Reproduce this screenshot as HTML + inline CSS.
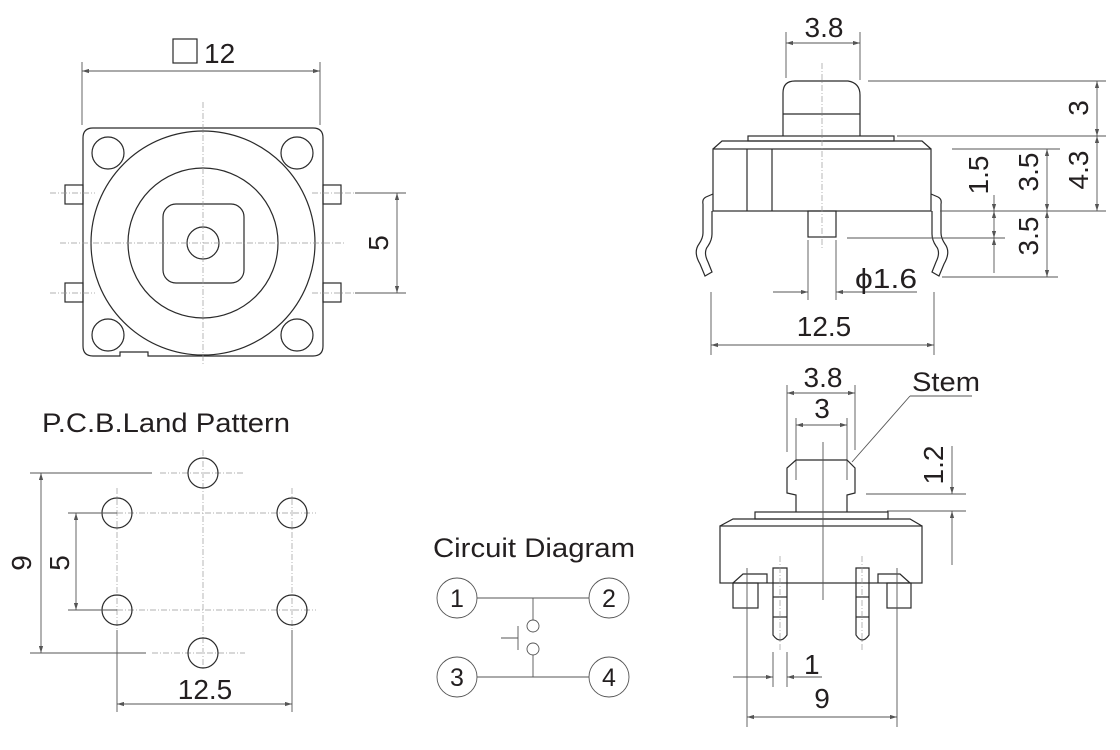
<!DOCTYPE html>
<html><head><meta charset="utf-8"><style>
html,body{margin:0;padding:0;background:#fff;}
svg{display:block;}
text{font-family:"Liberation Sans",sans-serif;fill:#231f20;}
.o{fill:none;stroke:#2a2a2a;stroke-width:1.2;}
.d{fill:none;stroke:#555;stroke-width:0.9;}
.c{fill:none;stroke:#999;stroke-width:0.7;stroke-dasharray:6 2 1 2;}
</style></head><body>
<svg width="1120" height="750" viewBox="0 0 1120 750" xmlns="http://www.w3.org/2000/svg">
<defs>
<marker id="a" viewBox="0 0 10 6" refX="10" refY="3" markerWidth="8" markerHeight="5" orient="auto-start-reverse"><path d="M0,0 L10,3 L0,6 z" fill="#555"/></marker>
</defs>

<!-- ===== Top-left view ===== -->
<rect x="173" y="39" width="24" height="24" class="o" stroke-width="0.8"/>
<text x="204" y="63" font-size="28">12</text>
<line x1="82" y1="62" x2="82" y2="125" class="d"/>
<line x1="320" y1="62" x2="320" y2="125" class="d"/>
<line x1="82" y1="71" x2="320" y2="71" class="d" marker-start="url(#a)" marker-end="url(#a)"/>
<path d="M93,128 H313 Q323,128 323,138 V346 Q323,356 313,356 H148 V352 H120 V356 H93 Q83,356 83,346 V138 Q83,128 93,128 Z" class="o"/>
<circle cx="108" cy="153" r="16" class="o"/>
<circle cx="297" cy="153" r="16" class="o"/>
<circle cx="108" cy="335" r="16" class="o"/>
<circle cx="297" cy="335" r="16" class="o"/>
<circle cx="203" cy="243" r="112" class="o"/>
<circle cx="203" cy="243" r="75" class="o"/>
<rect x="163" y="204" width="81" height="79" rx="13" class="o"/>
<circle cx="203" cy="243" r="16" class="o"/>
<rect x="65" y="185" width="18" height="19" class="o"/>
<rect x="65" y="283" width="18" height="19" class="o"/>
<rect x="323" y="185" width="18" height="19" class="o"/>
<rect x="323" y="283" width="18" height="19" class="o"/>
<line x1="50" y1="193" x2="95" y2="193" class="c"/>
<line x1="50" y1="293" x2="95" y2="293" class="c"/>
<line x1="312" y1="193" x2="355" y2="193" class="c"/>
<line x1="312" y1="293" x2="355" y2="293" class="c"/>
<line x1="60" y1="243" x2="345" y2="243" class="c"/>
<line x1="203" y1="102" x2="203" y2="365" class="c"/>
<line x1="355" y1="193" x2="406" y2="193" class="d"/>
<line x1="355" y1="293" x2="406" y2="293" class="d"/>
<line x1="397" y1="193" x2="397" y2="293" class="d" marker-start="url(#a)" marker-end="url(#a)"/>
<text transform="translate(388,243) rotate(-90)" font-size="28" text-anchor="middle">5</text>

<!-- ===== Top-right side view ===== -->
<text x="824" y="37" font-size="28" text-anchor="middle">3.8</text>
<line x1="786" y1="32" x2="786" y2="78" class="d"/>
<line x1="860" y1="32" x2="860" y2="80" class="d"/>
<line x1="786" y1="43" x2="860" y2="43" class="d" marker-start="url(#a)" marker-end="url(#a)"/>
<path d="M783,136 V93 Q783,81 795,81 H848 Q860,83 860,95 V136" class="o"/>
<line x1="783" y1="114" x2="860" y2="114" class="o"/>
<rect x="748" y="136" width="146" height="5" class="o"/>
<path d="M713,149 L722,141 H922 L931,149" class="o"/>
<rect x="713" y="149" width="218" height="62" class="o"/>
<line x1="747" y1="149" x2="747" y2="211" class="o"/>
<line x1="772" y1="149" x2="772" y2="211" class="o"/>
<rect x="808" y="211" width="28" height="26" class="o"/>
<line x1="822" y1="63" x2="822" y2="248" class="c"/>
<path d="M713,194 L706,197 Q702,199 703,204 V233 Q703,238 699,244 Q693,252 700,264 L705,276 L712,272 L708,262 Q703,252 708,246 Q712,240 712,234 V211" class="o"/>
<path d="M931,194 L938,197 Q942,199 941,204 V233 Q941,238 945,244 Q951,252 944,264 L939,276 L932,272 L936,262 Q941,252 936,246 Q932,240 932,234 V211" class="o"/>
<line x1="868" y1="81" x2="1106" y2="81" class="d"/>
<line x1="897" y1="136" x2="1106" y2="136" class="d"/>
<line x1="940" y1="211" x2="1106" y2="211" class="d"/>
<line x1="1097" y1="81" x2="1097" y2="136" class="d" marker-start="url(#a)" marker-end="url(#a)"/>
<line x1="1097" y1="136" x2="1097" y2="211" class="d" marker-start="url(#a)" marker-end="url(#a)"/>
<text transform="translate(1088,108) rotate(-90)" font-size="28" text-anchor="middle">3</text>
<text transform="translate(1088,170) rotate(-90)" font-size="28" text-anchor="middle">4.3</text>
<line x1="952" y1="149" x2="1060" y2="149" class="d"/>
<line x1="942" y1="277" x2="1058" y2="277" class="d"/>
<line x1="1047" y1="149" x2="1047" y2="211" class="d" marker-start="url(#a)" marker-end="url(#a)"/>
<line x1="1047" y1="211" x2="1047" y2="277" class="d" marker-start="url(#a)" marker-end="url(#a)"/>
<text transform="translate(1038,172) rotate(-90)" font-size="28" text-anchor="middle">3.5</text>
<text transform="translate(1038,236) rotate(-90)" font-size="28" text-anchor="middle">3.5</text>
<line x1="847" y1="238" x2="1005" y2="238" class="d"/>
<line x1="994" y1="195" x2="994" y2="211" class="d" marker-end="url(#a)"/>
<line x1="994" y1="211" x2="994" y2="238" class="d" marker-start="url(#a)" marker-end="url(#a)"/>
<line x1="994" y1="238" x2="994" y2="273" class="d" marker-start="url(#a)"/>
<text transform="translate(988,175) rotate(-90)" font-size="28" text-anchor="middle">1.5</text>
<line x1="808" y1="240" x2="808" y2="300" class="d"/>
<line x1="836" y1="240" x2="836" y2="300" class="d"/>
<line x1="773" y1="292" x2="808" y2="292" class="d" marker-end="url(#a)"/>
<line x1="836" y1="292" x2="917" y2="292" class="d" marker-start="url(#a)"/>
<text x="855" y="288" font-size="28" textLength="62" lengthAdjust="spacingAndGlyphs">ϕ1.6</text>
<line x1="711" y1="292" x2="711" y2="355" class="d"/>
<line x1="934" y1="292" x2="934" y2="355" class="d"/>
<line x1="711" y1="345" x2="934" y2="345" class="d" marker-start="url(#a)" marker-end="url(#a)"/>
<text x="824" y="336" font-size="28" text-anchor="middle">12.5</text>

<!-- ===== Bottom-right front view ===== -->
<text x="823" y="387" font-size="28" text-anchor="middle">3.8</text>
<line x1="787" y1="385" x2="787" y2="452" class="d"/>
<line x1="855" y1="385" x2="855" y2="450" class="d"/>
<line x1="787" y1="393" x2="855" y2="393" class="d" marker-start="url(#a)" marker-end="url(#a)"/>
<text x="822" y="418" font-size="28" text-anchor="middle">3</text>
<line x1="796" y1="418" x2="796" y2="480" class="d"/>
<line x1="847" y1="418" x2="847" y2="480" class="d"/>
<line x1="796" y1="425" x2="847" y2="425" class="d" marker-start="url(#a)" marker-end="url(#a)"/>
<text x="912" y="391" font-size="27" textLength="68" lengthAdjust="spacingAndGlyphs">Stem</text>
<line x1="910" y1="396" x2="972" y2="396" class="d"/>
<line x1="910" y1="396" x2="852" y2="462" class="d"/>
<path d="M796,512 V495 L787,493 V468 L796,460 H847 L855,468 V493 L847,495 V512" class="o"/>
<rect x="755" y="512" width="133" height="7" class="o"/>
<path d="M720,526 L733,519 H910 L922,526" class="o"/>
<rect x="720" y="526" width="202" height="57" class="o"/>
<path d="M733,583 L743,574 H767 V583" class="o"/>
<rect x="733" y="583" width="25" height="25" class="o"/>
<path d="M910,583 L900,574 H878 V583" class="o"/>
<rect x="887" y="583" width="24" height="25" class="o"/>
<path d="M773,568 H787 V635 Q780,645 773,635 Z" class="o"/>
<line x1="773" y1="597" x2="787" y2="597" class="o"/>
<line x1="773" y1="617" x2="787" y2="617" class="o"/>
<path d="M856,568 H869 V635 Q862,645 856,635 Z" class="o"/>
<line x1="856" y1="597" x2="869" y2="597" class="o"/>
<line x1="856" y1="617" x2="869" y2="617" class="o"/>
<line x1="823" y1="442" x2="823" y2="600" class="d"/>
<line x1="780" y1="556" x2="780" y2="650" class="c"/>
<line x1="862" y1="556" x2="862" y2="650" class="c"/>
<line x1="866" y1="494" x2="966" y2="494" class="d"/>
<line x1="887" y1="511" x2="966" y2="511" class="d"/>
<line x1="952" y1="446" x2="952" y2="494" class="d" marker-end="url(#a)"/>
<line x1="952" y1="511" x2="952" y2="565" class="d" marker-start="url(#a)"/>
<text transform="translate(943,465) rotate(-90)" font-size="28" text-anchor="middle">1.2</text>
<line x1="773" y1="652" x2="773" y2="687" class="d"/>
<line x1="787" y1="652" x2="787" y2="687" class="d"/>
<line x1="733" y1="677" x2="773" y2="677" class="d" marker-end="url(#a)"/>
<line x1="787" y1="677" x2="822" y2="677" class="d" marker-start="url(#a)"/>
<text x="804" y="674" font-size="28">1</text>
<line x1="747" y1="568" x2="747" y2="727" class="d"/>
<line x1="897" y1="568" x2="897" y2="727" class="d"/>
<line x1="747" y1="717" x2="897" y2="717" class="d" marker-start="url(#a)" marker-end="url(#a)"/>
<text x="822" y="708" font-size="28" text-anchor="middle">9</text>

<!-- ===== PCB land pattern ===== -->
<text x="42" y="432" font-size="27" textLength="248" lengthAdjust="spacingAndGlyphs">P.C.B.Land Pattern</text>
<line x1="203" y1="450" x2="203" y2="670" class="c"/>
<line x1="117" y1="488" x2="117" y2="630" class="c"/>
<line x1="292" y1="488" x2="292" y2="630" class="c"/>
<line x1="160" y1="473" x2="245" y2="473" class="c"/>
<line x1="152" y1="653" x2="245" y2="653" class="c"/>
<line x1="117" y1="513" x2="316" y2="513" class="c"/>
<line x1="117" y1="610" x2="316" y2="610" class="c"/>
<circle cx="203" cy="473" r="15" class="o"/>
<circle cx="117" cy="513" r="15" class="o"/>
<circle cx="292" cy="513" r="15" class="o"/>
<circle cx="117" cy="610" r="15" class="o"/>
<circle cx="292" cy="610" r="15" class="o"/>
<circle cx="203" cy="653" r="15" class="o"/>
<line x1="30" y1="473" x2="152" y2="473" class="d"/>
<line x1="30" y1="653" x2="146" y2="653" class="d"/>
<line x1="41" y1="473" x2="41" y2="653" class="d" marker-start="url(#a)" marker-end="url(#a)"/>
<text transform="translate(31,563) rotate(-90)" font-size="28" text-anchor="middle">9</text>
<line x1="68" y1="513" x2="117" y2="513" class="d"/>
<line x1="68" y1="610" x2="117" y2="610" class="d"/>
<line x1="76" y1="513" x2="76" y2="610" class="d" marker-start="url(#a)" marker-end="url(#a)"/>
<text transform="translate(69,563) rotate(-90)" font-size="28" text-anchor="middle">5</text>
<line x1="117" y1="630" x2="117" y2="712" class="d"/>
<line x1="292" y1="630" x2="292" y2="712" class="d"/>
<line x1="117" y1="704" x2="292" y2="704" class="d" marker-start="url(#a)" marker-end="url(#a)"/>
<text x="205" y="699" font-size="28" text-anchor="middle">12.5</text>

<!-- ===== Circuit diagram ===== -->
<text x="433" y="557" font-size="27" textLength="202" lengthAdjust="spacingAndGlyphs">Circuit Diagram</text>
<line x1="477" y1="598" x2="589" y2="598" class="d"/>
<line x1="477" y1="677" x2="589" y2="677" class="d"/>
<line x1="533" y1="598" x2="533" y2="620" class="d"/>
<circle cx="533" cy="626" r="6" class="d"/>
<circle cx="533" cy="649" r="6" class="d"/>
<line x1="533" y1="655" x2="533" y2="677" class="d"/>
<line x1="518" y1="626" x2="518" y2="650" class="d"/>
<line x1="501" y1="638" x2="518" y2="638" class="d"/>
<circle cx="457" cy="598" r="20" class="d"/>
<circle cx="609" cy="598" r="20" class="d"/>
<circle cx="457" cy="677" r="20" class="d"/>
<circle cx="609" cy="677" r="20" class="d"/>
<text x="457" y="607" font-size="25" text-anchor="middle">1</text>
<text x="609" y="607" font-size="25" text-anchor="middle">2</text>
<text x="457" y="686" font-size="25" text-anchor="middle">3</text>
<text x="609" y="686" font-size="25" text-anchor="middle">4</text>
</svg>
</body></html>
